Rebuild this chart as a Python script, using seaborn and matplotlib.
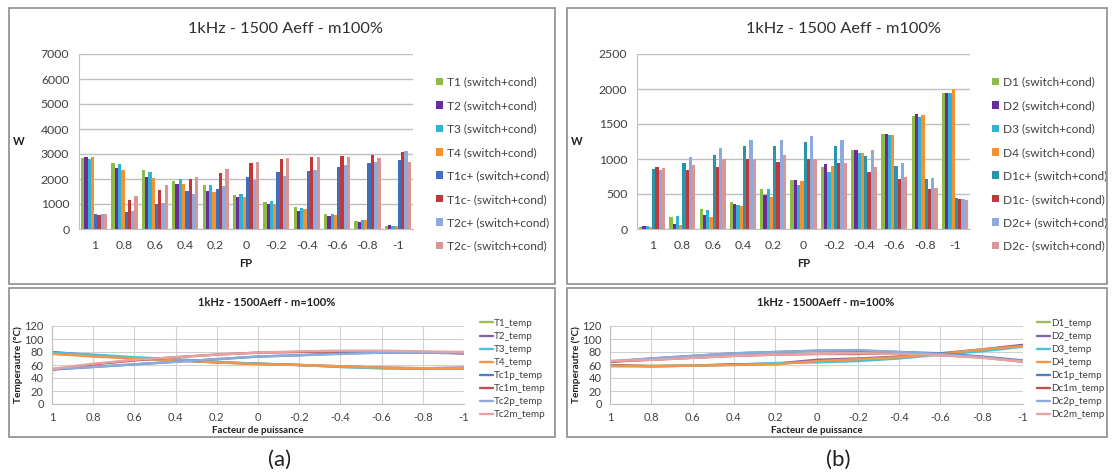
import pandas as pd
import matplotlib.pyplot as plt
import seaborn as sns
from matplotlib.patches import Rectangle
from matplotlib.ticker import FixedLocator

# Data
fp_labels = ['1', '0.8', '0.6', '0.4', '0.2', '0', '-0.2', '-0.4', '-0.6', '-0.8', '-1']
fp_values = [1, 0.8, 0.6, 0.4, 0.2, 0, -0.2, -0.4, -0.6, -0.8, -1]

# (a) transistor losses, W
T1 = [2830, 2650, 2350, 1910, 1750, 1350, 1080, 870, 590, 320, 120]
T2 = [2870, 2430, 2090, 1810, 1510, 1270, 1000, 710, 520, 290, 150]
T3 = [2800, 2600, 2290, 1990, 1750, 1410, 1120, 850, 610, 350, 130]
T4 = [2870, 2360, 2050, 1810, 1490, 1280, 1020, 800, 560, 370, 130]
T1c_p = [620, 670, 1000, 1530, 1610, 2090, 2270, 2310, 2490, 2650, 2750]
T1c_m = [580, 1150, 1570, 2010, 2250, 2630, 2810, 2870, 2920, 2960, 3070]
T2c_p = [600, 730, 1040, 1390, 1720, 1950, 2130, 2360, 2560, 2690, 3120]
T2c_m = [600, 1330, 1760, 2070, 2410, 2670, 2840, 2870, 2890, 2840, 2680]

# (b) diode losses, W
D1 = [30, 176, 290, 386, 567, 705, 881, 1129, 1352, 1610, 1938]
D2 = [45, 71, 200, 362, 486, 705, 924, 1133, 1357, 1638, 1938]
D3 = [45, 181, 276, 338, 567, 633, 819, 1090, 1338, 1605, 1938]
D4 = [30, 52, 167, 333, 452, 688, 900, 1081, 1338, 1633, 2000]
D1c_p = [852, 943, 1062, 1186, 1186, 1236, 1190, 1048, 905, 714, 443]
D1c_m = [880, 843, 890, 1005, 952, 1002, 948, 814, 714, 571, 433]
D2c_p = [843, 1024, 1162, 1271, 1278, 1331, 1271, 1124, 943, 733, 429]
D2c_m = [867, 919, 995, 1000, 1057, 1002, 938, 881, 748, 581, 410]

# (a) temperatures, degC
T1_temp = [78, 74, 71, 68, 64, 62, 60, 57, 55, 54, 55]
T2_temp = [80, 75, 70, 67, 64, 62, 60, 58, 56, 55, 56]
T3_temp = [79, 76, 72, 69, 65, 62, 60, 57, 55, 54, 54]
T4_temp = [77, 73, 70, 67, 64, 61, 60, 58, 56, 55, 55]
Tc1p_temp = [53, 57, 61, 65, 69, 73, 75, 78, 79, 79, 78]
Tc1m_temp = [53, 61, 67, 72, 76, 79, 80, 81, 81, 80, 78]
Tc2p_temp = [54, 57, 61, 65, 69, 73, 75, 77, 79, 79, 79]
Tc2m_temp = [54, 62, 68, 72, 76, 79, 81, 82, 82, 81, 80]

# (b) temperatures, degC
D1_temp = [59, 59, 59, 61, 62, 66, 69, 72, 77, 83, 89]
D2_temp = [60, 58, 59, 61, 62, 68, 70, 73, 78, 84, 91]
D3_temp = [58, 58, 59, 60, 63, 64, 66, 70, 76, 81, 88]
D4_temp = [59, 58, 59, 60, 61, 66, 69, 72, 77, 84, 89]
Dc1p_temp = [65, 70, 74, 78, 80, 82, 82, 80, 78, 73, 67]
Dc1m_temp = [65, 68, 71, 74, 76, 77, 77, 78, 75, 72, 65]
Dc2p_temp = [66, 70, 74, 78, 80, 82, 83, 80, 77, 72, 66]
Dc2m_temp = [66, 68, 71, 74, 76, 77, 78, 77, 75, 71, 65]

bar_a = {'T1 (switch+cond)': T1, 'T2 (switch+cond)': T2, 'T3 (switch+cond)': T3,
         'T4 (switch+cond)': T4, 'T1c+ (switch+cond)': T1c_p, 'T1c- (switch+cond)': T1c_m,
         'T2c+ (switch+cond)': T2c_p, 'T2c- (switch+cond)': T2c_m}
bar_b = {'D1 (switch+cond)': D1, 'D2 (switch+cond)': D2, 'D3 (switch+cond)': D3,
         'D4 (switch+cond)': D4, 'D1c+ (switch+cond)': D1c_p, 'D1c- (switch+cond)': D1c_m,
         'D2c+ (switch+cond)': D2c_p, 'D2c- (switch+cond)': D2c_m}
line_a = {'T1_temp': T1_temp, 'T2_temp': T2_temp, 'T3_temp': T3_temp, 'T4_temp': T4_temp,
          'Tc1p_temp': Tc1p_temp, 'Tc1m_temp': Tc1m_temp, 'Tc2p_temp': Tc2p_temp,
          'Tc2m_temp': Tc2m_temp}
line_b = {'D1_temp': D1_temp, 'D2_temp': D2_temp, 'D3_temp': D3_temp, 'D4_temp': D4_temp,
          'Dc1p_temp': Dc1p_temp, 'Dc1m_temp': Dc1m_temp, 'Dc2p_temp': Dc2p_temp,
          'Dc2m_temp': Dc2m_temp}

colors_a = ['#8DBB45', '#6A2C9A', '#2FB2D4', '#F7902E', '#3F70C0', '#C0393A', '#8EAADB', '#D99694']
colors_b = ['#8DBB45', '#6A2C9A', '#2FB2D4', '#F7902E', '#2A94A8', '#C0393A', '#8EAADB', '#D99694']
line_colors = ['#9BBB59', '#8064A2', '#4BC0DA', '#F79646', '#4F81BD', '#C0504D', '#8EAADB', '#E6A3A2']

sns.set_style('white')
plt.rcParams['font.family'] = ['Lato', 'DejaVu Sans']
TXT = '#404040'

W, H = 1112, 476
fig = plt.figure(figsize=(W / 100, H / 100), dpi=100)


def rect(x0, y0, x1, y1):
    return [x0 / W, 1 - y1 / H, (x1 - x0) / W, (y1 - y0) / H]


def frame(x0, y0, x1, y1):
    fig.patches.append(Rectangle((x0 / W, 1 - y1 / H), (x1 - x0) / W, (y1 - y0) / H,
                                 transform=fig.transFigure, fill=False,
                                 edgecolor='#8C8C8C', lw=1.2))


frame(9, 8, 555, 284)
frame(567, 8, 1107, 284)
frame(9, 288, 555, 437)
frame(567, 288, 1107, 437)


def bar_panel(box, data, colors, ymax, ystep, leg_x, title_x):
    ax = fig.add_axes(rect(*box))
    df = pd.DataFrame(data)
    df['FP'] = fp_labels
    long = df.melt(id_vars='FP', var_name='serie', value_name='W')
    sns.barplot(data=long, x='FP', y='W', hue='serie', order=fp_labels,
                palette=colors, width=0.86, saturation=1, linewidth=0,
                edgecolor='none', ax=ax, legend=True)
    ax.set_ylim(0, ymax)
    ax.set_xlim(-0.5, len(fp_labels) - 0.5)
    ax.set_yticks(range(0, ymax + 1, ystep))
    ax.grid(axis='y', color='#BFBFBF', lw=1)
    ax.set_axisbelow(True)
    for s in ['top', 'right']:
        ax.spines[s].set_visible(False)
    ax.spines['left'].set_color('#BFBFBF')
    ax.spines['bottom'].set_color('#BFBFBF')
    ax.xaxis.set_minor_locator(FixedLocator([i - 0.5 for i in range(len(fp_labels) + 1)]))
    ax.tick_params(axis='x', which='major', length=0, labelsize=8.8, labelcolor=TXT, pad=8)
    ax.tick_params(axis='x', which='minor', length=4, color='#BFBFBF')
    ax.tick_params(axis='y', length=0, labelsize=8.8, labelcolor=TXT, pad=7)
    ax.set_xlabel('FP', fontsize=8, fontweight='bold', color='#202020', labelpad=5)
    ax.set_ylabel('W', fontsize=8, fontweight='bold', color='#202020', rotation=0,
                  labelpad=16, va='center')
    fig.text(title_x / W, 1 - 29 / H, '1kHz - 1500 Aeff - m100%', fontsize=11.8,
             color='#303030', ha='center', va='center')
    ax.legend(loc='upper left', bbox_to_anchor=(leg_x / W, 1 - 72 / H),
              bbox_transform=fig.transFigure, frameon=False, fontsize=8.6,
              handlelength=0.6, handleheight=0.6, handletextpad=0.3,
              labelspacing=1.04, labelcolor=TXT, borderaxespad=0)
    return ax


def line_panel(box, data, leg_x, title_x):
    ax = fig.add_axes(rect(*box))
    df = pd.DataFrame(data)
    df['FP'] = fp_values
    long = df.melt(id_vars='FP', var_name='serie', value_name='temp')
    sns.lineplot(data=long, x='FP', y='temp', hue='serie', palette=line_colors,
                 lw=1.7, ax=ax)
    ax.set_xlim(1, -1)
    ax.set_ylim(0, 120)
    ax.set_xticks(fp_values)
    ax.set_xticklabels(fp_labels)
    ax.set_yticks(range(0, 121, 20))
    ax.grid(True, color='#D0D0D0', lw=0.8)
    ax.set_axisbelow(True)
    for s in ['top', 'right']:
        ax.spines[s].set_visible(False)
    ax.spines['left'].set_color('#BFBFBF')
    ax.spines['bottom'].set_color('#BFBFBF')
    ax.tick_params(length=3, color='#BFBFBF', labelsize=8, labelcolor=TXT, pad=3)
    ax.set_xlabel('Facteur de puissance', fontsize=7, fontweight='bold',
                  color='#202020', labelpad=2)
    ax.set_ylabel('Temperautre (°C)', fontsize=7.2, fontweight='bold',
                  color='#202020', labelpad=1)
    fig.text(title_x / W, 1 - 303 / H, '1kHz - 1500Aeff - m=100%', fontsize=8,
             fontweight='bold', color='#202020', ha='center', va='center')
    ax.legend(loc='upper left', bbox_to_anchor=(leg_x / W, 1 - 315 / H),
              bbox_transform=fig.transFigure, frameon=False, fontsize=7.1,
              handlelength=1.3, handletextpad=0.1, labelspacing=0.41,
              labelcolor=TXT, borderaxespad=0)
    return ax


bar_panel((79, 54, 413, 229), bar_a, colors_a, 7000, 1000, 431, 285)
bar_panel((637, 54, 970, 229), bar_b, colors_b, 2500, 500, 987, 843)
line_panel((52, 326, 464, 404), line_a, 476, 267)
line_panel((610, 326, 1023, 404), line_b, 1033, 826)

fig.text(280 / W, 1 - 460 / H, '(a)', fontsize=16, ha='center', va='center', color='#202020')
fig.text(838 / W, 1 - 460 / H, '(b)', fontsize=16, ha='center', va='center', color='#202020')

fig.savefig('out.png', dpi=100)
